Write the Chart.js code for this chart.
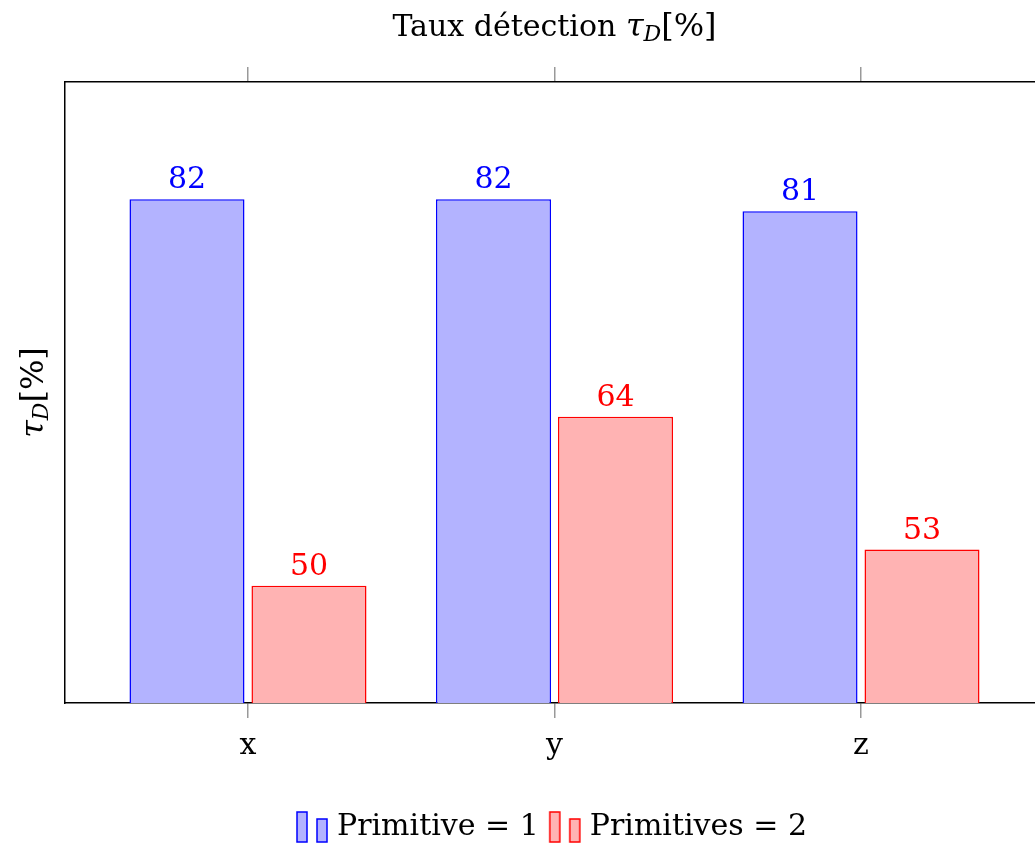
<!DOCTYPE html>
<html>
<head>
<meta charset="utf-8">
<script src="https://cdn.jsdelivr.net/npm/chart.js@4"></script>
<style>
  html, body { margin: 0; padding: 0; background: #fff; overflow: hidden; }
  #wrap { width: 1035px; height: 844px; overflow: hidden; }
</style>
</head>
<body>
<div id="wrap"><canvas id="graph_taux" width="1060" height="844"></canvas></div>
<script>
// data
const categories = ['x', 'y', 'z'];
const primitive1 = [82, 82, 81];
const primitives2 = [50, 64, 53];
const seriesNames = ['Primitive = 1', 'Primitives = 2'];

const FONT = '"DejaVu Serif", serif';
const blue = '#0000ff', blueFill = '#b3b3ff';
const red = '#ff0000', redFill = '#ffb3b3';

// little two-bar icon for the legend
function legendIcon(stroke, fill) {
    const c = document.createElement('canvas');
    c.width = 34; c.height = 34;
    const g = c.getContext('2d');
    g.fillStyle = fill; g.strokeStyle = stroke; g.lineWidth = 1.5;
    g.fillRect(2, 2, 10, 30); g.strokeRect(2, 2, 10, 30);
    g.fillRect(22, 9, 10, 23); g.strokeRect(22, 9, 10, 23);
    return c;
}

// value labels above bars
const barValues = {
    id: 'barValues',
    afterDatasetsDraw(chart) {
        const ctx = chart.ctx;
        ctx.save();
        ctx.font = '30px ' + FONT;
        ctx.textAlign = 'center';
        ctx.textBaseline = 'alphabetic';
        chart.data.datasets.forEach((ds, i) => {
            chart.getDatasetMeta(i).data.forEach((bar, j) => {
                ctx.fillStyle = ds.borderColor;
                ctx.fillText(ds.data[j].y, bar.x, bar.y - 11);
            });
        });
        ctx.restore();
    }
};

// draws "text tau_D[%]" with subscript D
function mathLabel(ctx, pre, x, y) {
    const parts = [
        { t: pre, f: '30px ' + FONT, dy: 0 },
        { t: 'τ', f: 'italic 32px ' + FONT, dy: 0 },
        { t: 'D', f: 'italic 22px ' + FONT, dy: 7 },
        { t: '[%]', f: '32px ' + FONT, dy: 0 }
    ];
    let w = 0;
    parts.forEach(p => { ctx.font = p.f; w += ctx.measureText(p.t).width; });
    let cx = x - w / 2;
    ctx.textAlign = 'left';
    ctx.textBaseline = 'middle';
    parts.forEach(p => {
        ctx.font = p.f;
        ctx.fillText(p.t, cx, y + p.dy);
        cx += ctx.measureText(p.t).width;
    });
}

const axisTitles = {
    id: 'axisTitles',
    afterDraw(chart) {
        const ctx = chart.ctx, a = chart.chartArea;
        ctx.save();
        ctx.fillStyle = '#000';
        mathLabel(ctx, 'Taux détection ', (a.left + a.right) / 2, 28);
        ctx.translate(35, (a.top + a.bottom) / 2);
        ctx.rotate(-Math.PI / 2);
        mathLabel(ctx, '', 0, 0);
        ctx.restore();
    }
};

const catTicks = axis => { axis.ticks = categories.map((c, i) => ({ value: i })); };

new Chart(document.getElementById('graph_taux'), {
    type: 'bar',
    data: {
        datasets: [{
            label: seriesNames[0],
            data: primitive1.map((v, i) => ({ x: i, y: v })),
            backgroundColor: blueFill,
            borderColor: blue,
            borderWidth: 1.5,
            pointStyle: legendIcon(blue, blueFill)
        }, {
            label: seriesNames[1],
            data: primitives2.map((v, i) => ({ x: i, y: v })),
            backgroundColor: redFill,
            borderColor: red,
            borderWidth: 1.5,
            pointStyle: legendIcon(red, redFill)
        }]
    },
    options: {
        responsive: false,
        animation: false,
        categoryPercentage: 0.796,
        barPercentage: 0.943,
        layout: { padding: { left: 65, top: 67, right: 16, bottom: -8 } },
        scales: {
            x: {
                type: 'linear',
                offset: false,
                min: -0.597,
                max: 2.597,
                afterBuildTicks: catTicks,
                afterFit: s => { s.height = 93; },
                grid: { offset: false, drawOnChartArea: false, tickLength: 15, color: '#999', lineWidth: 1.5 },
                border: { color: '#000', width: 1.5 },
                ticks: {
                    font: { family: FONT, size: 30 },
                    color: '#000',
                    padding: 10,
                    callback: v => categories[v]
                }
            },
            x2: {
                type: 'linear',
                position: 'top',
                offset: false,
                min: -0.597,
                max: 2.597,
                afterBuildTicks: catTicks,
                afterFit: s => { s.height = 15; },
                grid: { offset: false, drawOnChartArea: false, tickLength: 15, color: '#999', lineWidth: 1.5 },
                border: { color: '#000', width: 1.5 },
                ticks: { display: false }
            },
            y: {
                min: 40.3,
                max: 91.7,
                afterFit: s => { s.width = 0; },
                grid: { display: false },
                border: { color: '#000', width: 1.5 },
                ticks: { display: false }
            }
        },
        plugins: {
            title: { display: false },
            tooltip: { enabled: false },
            legend: {
                position: 'bottom',
                labels: {
                    usePointStyle: true,
                    pointStyleWidth: 20,
                    color: '#000',
                    font: { family: FONT, size: 30 },
                    padding: 16
                }
            }
        }
    },
    plugins: [barValues, axisTitles]
});
</script>
</body>
</html>
